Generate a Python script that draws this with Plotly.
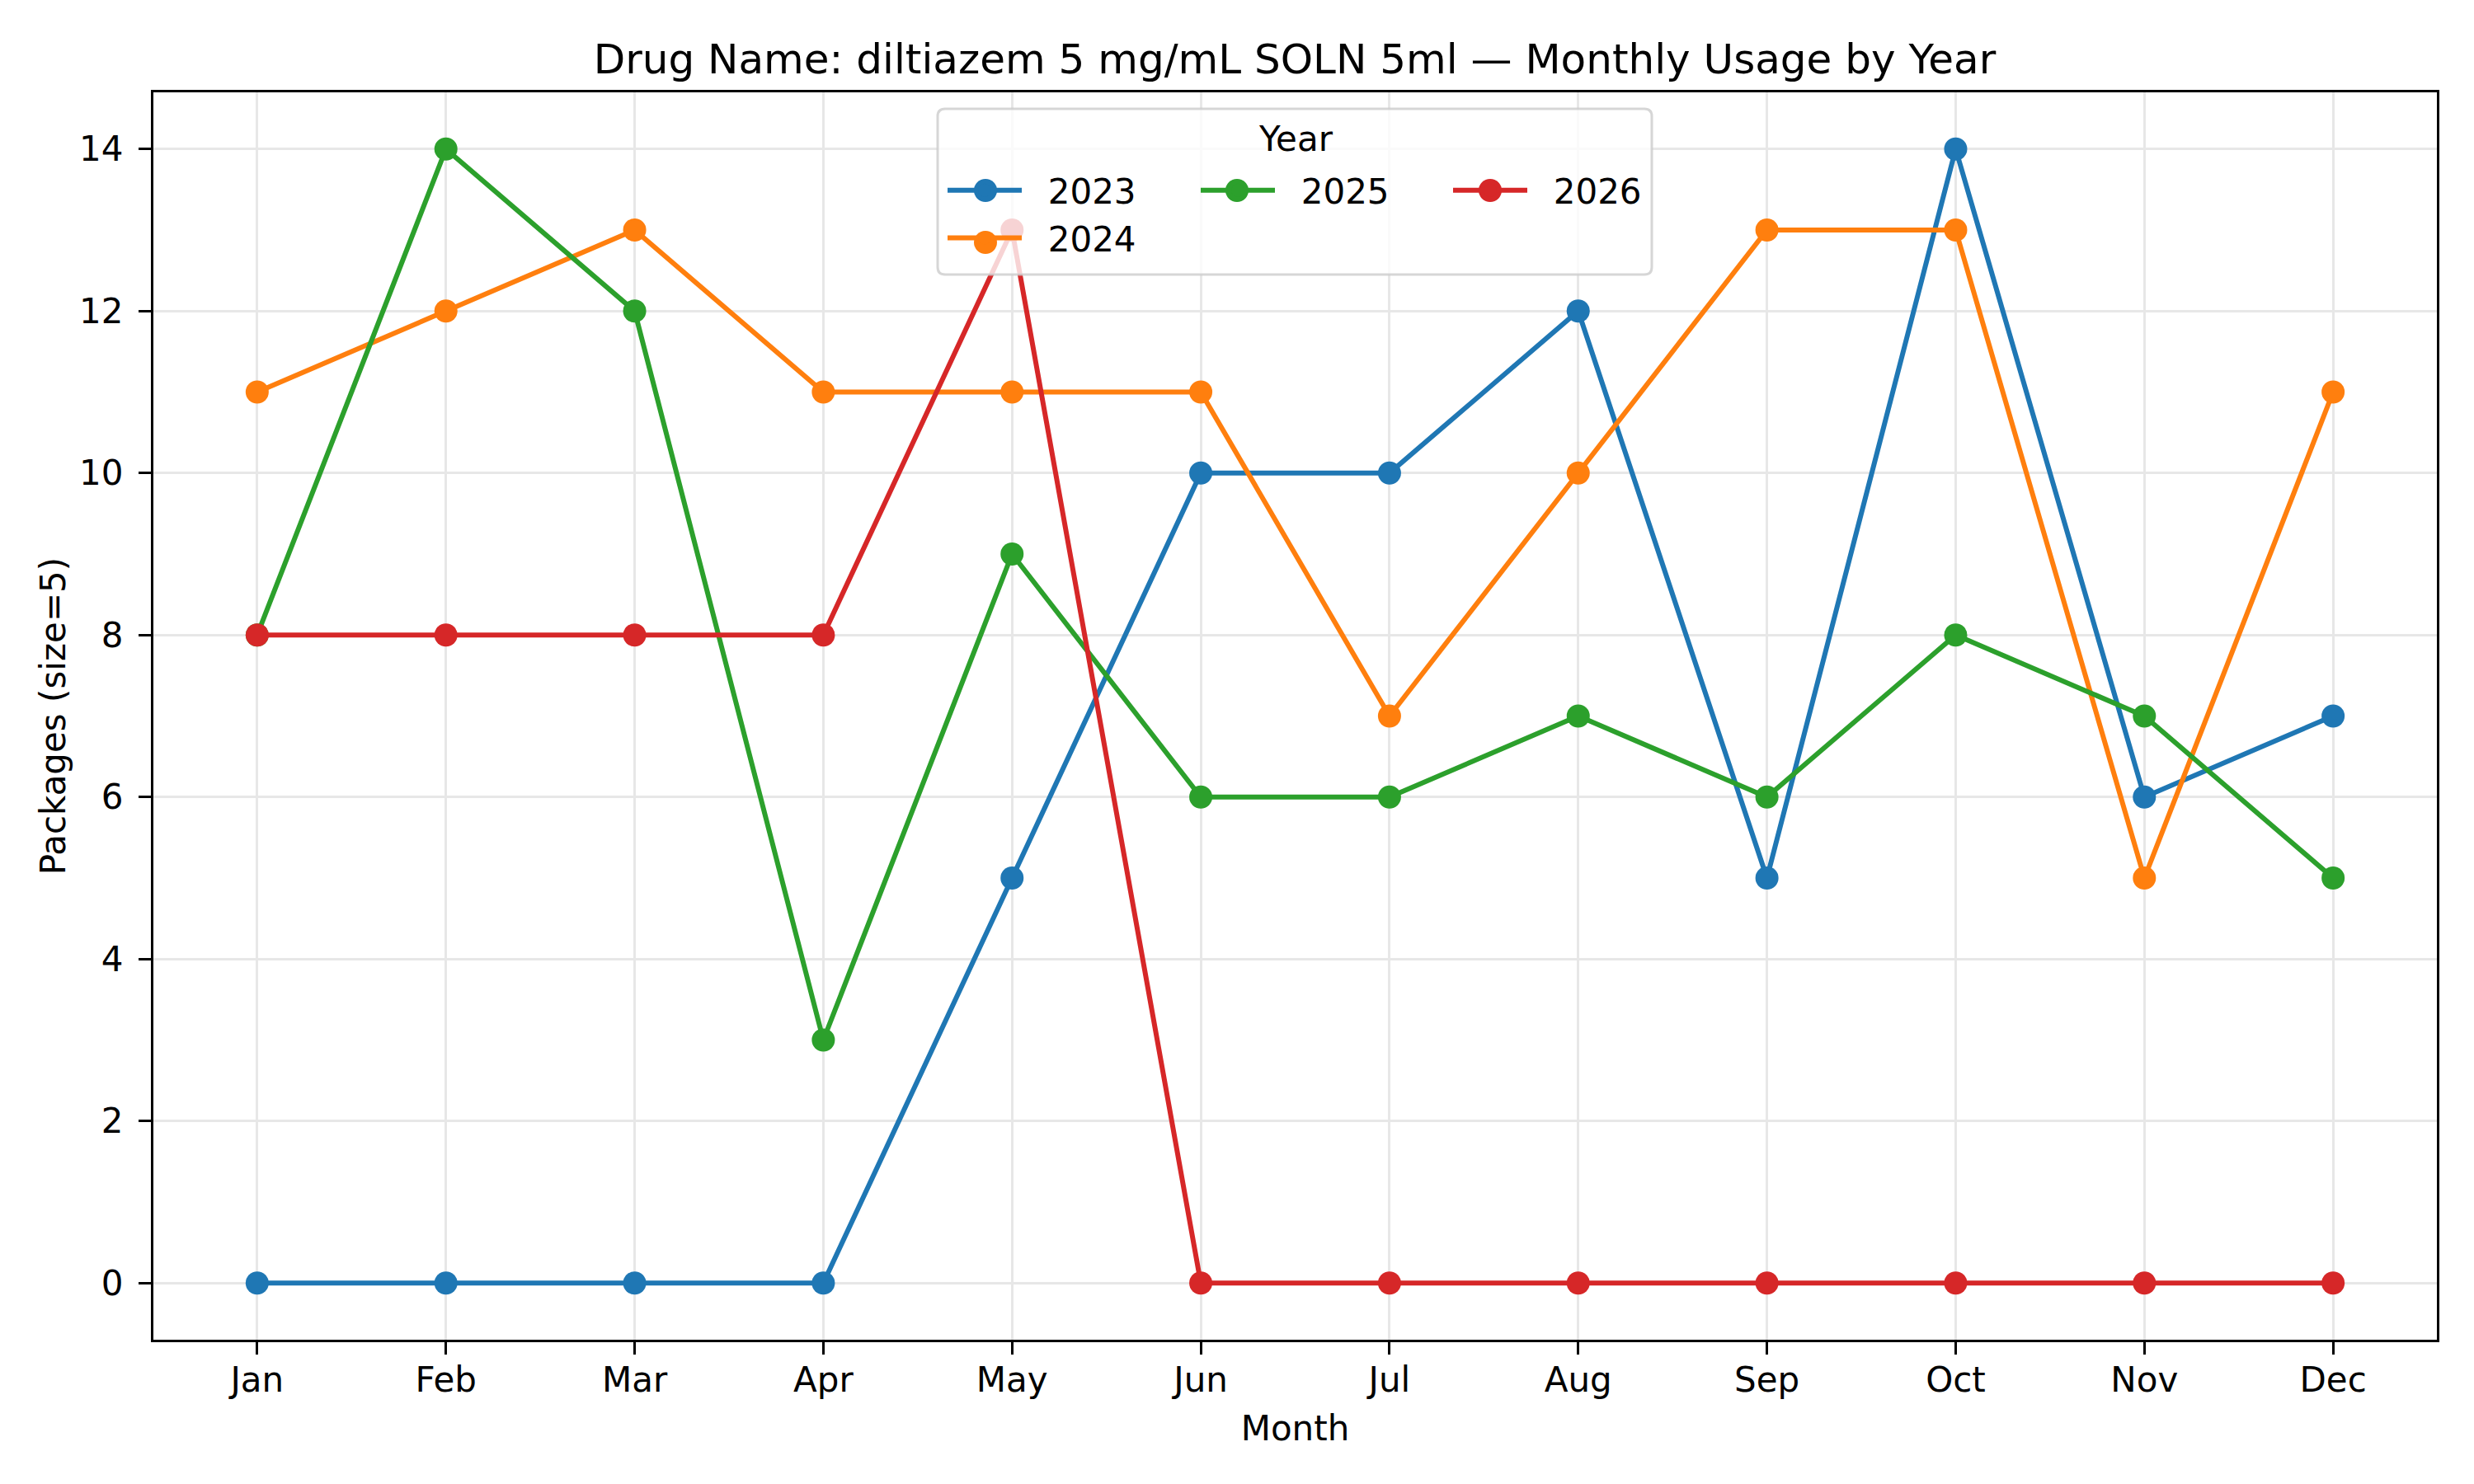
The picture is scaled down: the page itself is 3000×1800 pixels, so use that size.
import plotly.graph_objects as go

months = ["Jan", "Feb", "Mar", "Apr", "May", "Jun", "Jul", "Aug", "Sep", "Oct", "Nov", "Dec"]
years = ["2023", "2024", "2025", "2026"]
usage_2023 = [0, 0, 0, 0, 5, 10, 10, 12, 5, 14, 6, 7]
usage_2024 = [11, 12, 13, 11, 11, 11, 7, 10, 13, 13, 5, 11]
usage_2025 = [8, 14, 12, 3, 9, 6, 6, 7, 6, 8, 7, 5]
usage_2026 = [8, 8, 8, 8, 13, 0, 0, 0, 0, 0, 0, 0]
series = [usage_2023, usage_2024, usage_2025, usage_2026]
colors = ["#1f77b4", "#ff7f0e", "#2ca02c", "#d62728"]
legend_ids = ["legend", "legend", "legend2", "legend3"]

FONT = "DejaVu Sans"
W, H = 3000, 1800
L, R, T, B = 186, 45, 112, 175
pw, ph = W - L - R, H - T - B


def px_x(x):
    return (x - L) / pw


def px_y(y):
    return (H - B - y) / ph


fig = go.Figure()
x_idx = list(range(len(months)))
for name, vals, col, lg in zip(years, series, colors, legend_ids):
    fig.add_trace(go.Scatter(
        x=x_idx, y=vals, name="\u00a0\u00a0" + name, mode="lines+markers",
        line=dict(color=col, width=6),
        marker=dict(color=col, size=28),
        legend=lg,
    ))

axis_common = dict(
    showline=True, linecolor="black", linewidth=3.3, mirror=True,
    ticks="outside", ticklen=15, tickwidth=3.3, tickcolor="black",
    showgrid=True, gridcolor="#e7e7e7", gridwidth=3,
    zeroline=False,
    tickfont=dict(family=FONT, size=42, color="black"),
)

fig.update_xaxes(
    range=[-0.55, 11.55], tickmode="array", tickvals=x_idx, ticktext=months,
    title=dict(text="Month", font=dict(family=FONT, size=42, color="black"), standoff=22),
    ticklabelstandoff=-6,
    **axis_common,
)
fig.update_yaxes(
    range=[-0.7, 14.7], tickmode="array", tickvals=[0, 2, 4, 6, 8, 10, 12, 14],
    title=dict(text="Packages (size=5)", font=dict(family=FONT, size=42, color="black"), standoff=4),
    ticklabelstandoff=10,
    **axis_common,
)

# legend frame
fx0, fx1, fy0, fy1 = 1137, 2003, 132, 333
r = 9
def P(x, y):
    return f"{px_x(x):.5f},{px_y(y):.5f}"
path = (f"M{P(fx0 + r, fy0)} L{P(fx1 - r, fy0)} Q{P(fx1, fy0)} {P(fx1, fy0 + r)} "
        f"L{P(fx1, fy1 - r)} Q{P(fx1, fy1)} {P(fx1 - r, fy1)} "
        f"L{P(fx0 + r, fy1)} Q{P(fx0, fy1)} {P(fx0, fy1 - r)} "
        f"L{P(fx0, fy0 + r)} Q{P(fx0, fy0)} {P(fx0 + r, fy0)} Z")
fig.add_shape(type="path", path=path, xref="paper", yref="paper", layer="above",
              fillcolor="rgba(255,255,255,0.8)", line=dict(color="rgba(204,204,204,0.8)", width=3))

# enlarged legend marker dots (legend symbols are size-capped in plotly)
leg_dots = [(1195, 231, colors[0]), (1195, 294, colors[1]), (1500, 231, colors[2]), (1807, 231, colors[3])]
rad = 14
for cx, cy, col in leg_dots:
    fig.add_shape(type="circle", xref="paper", yref="paper", layer="above",
                  x0=px_x(cx - rad), x1=px_x(cx + rad), y0=px_y(cy + rad), y1=px_y(cy - rad),
                  fillcolor=col, line=dict(width=0))

fig.add_annotation(text="Year", xref="paper", yref="paper", x=px_x(1571), y=px_y(168),
                   xanchor="center", yanchor="middle", showarrow=False,
                   font=dict(family=FONT, size=42, color="black"))

leg_common = dict(
    orientation="v", yanchor="top", xanchor="left", y=px_y(197),
    bgcolor="rgba(0,0,0,0)", borderwidth=0,
    font=dict(family=FONT, size=42, color="black"),
    itemwidth=90, itemsizing="trace",
)

fig.update_layout(
    width=W, height=H,
    margin=dict(l=L, r=R, t=T, b=B),
    paper_bgcolor="white", plot_bgcolor="white",
    title=dict(text="Drug Name: diltiazem 5 mg/mL SOLN 5ml \u2014 Monthly Usage by Year",
               xref="container", x=1570 / W, xanchor="center", y=1 - 71 / H, yanchor="middle",
               font=dict(family=FONT, size=50, color="black")),
    showlegend=True,
    legend=dict(x=px_x(1144), **leg_common),
    legend2=dict(x=px_x(1451), **leg_common),
    legend3=dict(x=px_x(1757), **leg_common),
)

fig.write_html("out.html")
